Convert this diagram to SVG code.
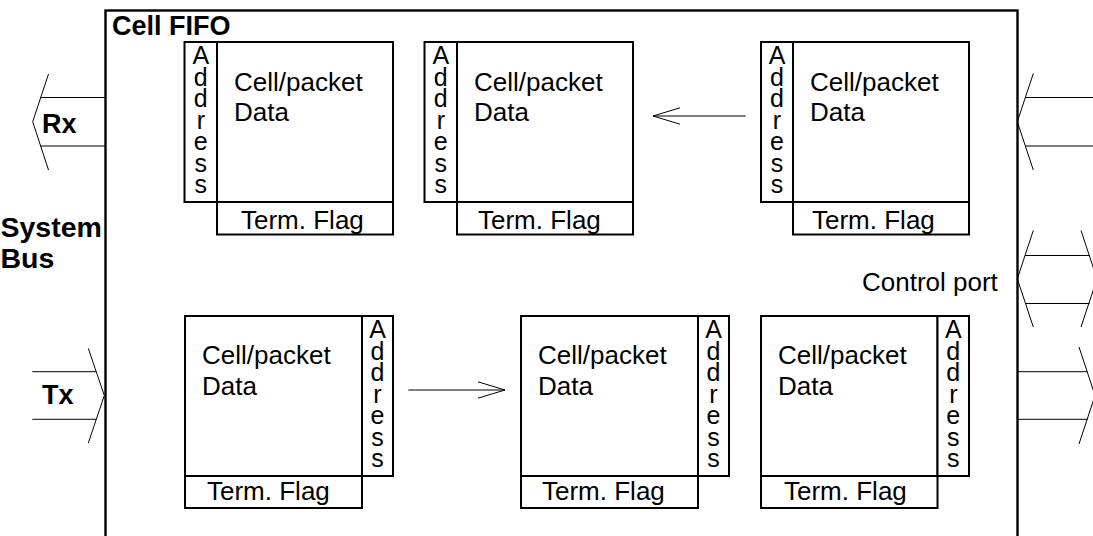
<svg xmlns="http://www.w3.org/2000/svg" width="1093" height="536" viewBox="0 0 1093 536">
<defs>
<style>
.frame{fill:none;stroke:#000;stroke-width:2.4}
.box{fill:#fff;stroke:#000;stroke-width:2}
.ln{fill:none;stroke:#000;stroke-width:1}
.t{font-family:"Liberation Sans",Arial,sans-serif;font-size:26px;fill:#000}
.b{font-family:"Liberation Sans",Arial,sans-serif;font-size:27px;font-weight:bold;fill:#000}
.addr{font-family:"Liberation Sans",Arial,sans-serif;font-size:25px;fill:#000;text-anchor:middle}
</style>
<marker id="open" markerUnits="userSpaceOnUse" markerWidth="32" markerHeight="20" viewBox="-30 -10 32 20" refX="0" refY="0" orient="auto" overflow="visible">
<path d="M -27 -8.2 L 0 0 L -27 8.2" fill="none" stroke="#000" stroke-width="1"/>
</marker>
</defs>
<rect width="1093" height="536" fill="#fff"/>

<g id="cell-fifo">
<rect class="frame" x="105.5" y="10.5" width="912" height="600"/>
<text class="b" x="112" y="35">Cell FIFO</text>
</g>

<g id="system-bus-label">
<text class="b" x="0.5" y="237" style="font-size:28.5px">System</text>
<text class="b" x="0.5" y="268" style="font-size:28.5px">Bus</text>
</g>
<g id="rx-label"><text class="b" x="42" y="133">Rx</text></g>
<g id="tx-label"><text class="b" x="42" y="404">Tx</text></g>
<g id="control-port-label"><text class="t" x="862" y="291">Control port</text></g>

<g id="connectors">
<path class="ln" d="M 105 97.5 H 40.6 M 105 146 H 40.6"/>
<path class="ln" d="M 48.5 74 L 32.7 121.7 L 48.5 170"/>
<path class="ln" d="M 32.3 371.7 H 96 M 32.3 419.3 H 96"/>
<path class="ln" d="M 88.3 348.3 L 104.3 395.5 L 88.3 443"/>
<path class="ln" d="M 1093 97.5 H 1025 M 1093 146 H 1025"/>
<path class="ln" d="M 1033.3 73.5 L 1017.3 121.7 L 1033.3 170"/>
<path class="ln" d="M 1025 255.5 H 1089.5 M 1025 303.5 H 1089.5"/>
<path class="ln" d="M 1033.3 230.5 L 1017.3 278.8 L 1033.3 327"/>
<path class="ln" d="M 1081 230.5 L 1097 278.8 L 1081 327"/>
<path class="ln" d="M 1017 371.7 H 1087.5 M 1017 419.3 H 1087.5"/>
<path class="ln" d="M 1079 347 L 1095 395.5 L 1079 444"/>
<line class="ln" x1="745.7" y1="116" x2="653" y2="116" marker-end="url(#open)"/>
<line class="ln" x1="408.3" y1="390" x2="505" y2="390" marker-end="url(#open)"/>
</g>

<g id="rx-cell-1">
<rect class="box" x="184.5" y="42" width="32.5" height="160"/>
<rect class="box" x="217" y="42" width="176" height="160"/>
<rect class="box" x="217" y="202" width="176" height="32.5"/>
<text class="t" x="234" y="91">Cell/packet</text>
<text class="t" x="234" y="121">Data</text>
<text class="t" x="241" y="229">Term. Flag</text>
<text class="addr" x="200.8"><tspan x="200.8" y="64">A</tspan><tspan x="200.8" y="85.5">d</tspan><tspan x="200.8" y="107">d</tspan><tspan x="200.8" y="128.6">r</tspan><tspan x="200.8" y="150.2">e</tspan><tspan x="200.8" y="171.7">s</tspan><tspan x="200.8" y="193.3">s</tspan></text>
</g>

<g id="rx-cell-2">
<rect class="box" x="424.5" y="42" width="32.5" height="160"/>
<rect class="box" x="457" y="42" width="176" height="160"/>
<rect class="box" x="457" y="202" width="176" height="32.5"/>
<text class="t" x="474" y="91">Cell/packet</text>
<text class="t" x="474" y="121">Data</text>
<text class="t" x="478" y="229">Term. Flag</text>
<text class="addr" x="440.8"><tspan x="440.8" y="64">A</tspan><tspan x="440.8" y="85.5">d</tspan><tspan x="440.8" y="107">d</tspan><tspan x="440.8" y="128.6">r</tspan><tspan x="440.8" y="150.2">e</tspan><tspan x="440.8" y="171.7">s</tspan><tspan x="440.8" y="193.3">s</tspan></text>
</g>

<g id="rx-cell-3">
<rect class="box" x="761" y="42" width="32" height="160"/>
<rect class="box" x="793" y="42" width="176" height="160"/>
<rect class="box" x="793" y="202" width="176" height="32.5"/>
<text class="t" x="810" y="91">Cell/packet</text>
<text class="t" x="810" y="121">Data</text>
<text class="t" x="812" y="229">Term. Flag</text>
<text class="addr" x="777"><tspan x="777" y="64">A</tspan><tspan x="777" y="85.5">d</tspan><tspan x="777" y="107">d</tspan><tspan x="777" y="128.6">r</tspan><tspan x="777" y="150.2">e</tspan><tspan x="777" y="171.7">s</tspan><tspan x="777" y="193.3">s</tspan></text>
</g>

<g id="tx-cell-1">
<rect class="box" x="185" y="316" width="177" height="160"/>
<rect class="box" x="362" y="316" width="31" height="160"/>
<rect class="box" x="185" y="476" width="177" height="32"/>
<text class="t" x="202" y="364">Cell/packet</text>
<text class="t" x="202" y="395">Data</text>
<text class="t" x="207" y="500">Term. Flag</text>
<text class="addr" x="377.5"><tspan x="377.5" y="338">A</tspan><tspan x="377.5" y="359.5">d</tspan><tspan x="377.5" y="381">d</tspan><tspan x="377.5" y="402.6">r</tspan><tspan x="377.5" y="424.2">e</tspan><tspan x="377.5" y="445.7">s</tspan><tspan x="377.5" y="467.3">s</tspan></text>
</g>

<g id="tx-cell-2">
<rect class="box" x="521" y="316" width="177" height="160"/>
<rect class="box" x="698" y="316" width="31" height="160"/>
<rect class="box" x="521" y="476" width="177" height="32"/>
<text class="t" x="538" y="364">Cell/packet</text>
<text class="t" x="538" y="395">Data</text>
<text class="t" x="542" y="500">Term. Flag</text>
<text class="addr" x="713.5"><tspan x="713.5" y="338">A</tspan><tspan x="713.5" y="359.5">d</tspan><tspan x="713.5" y="381">d</tspan><tspan x="713.5" y="402.6">r</tspan><tspan x="713.5" y="424.2">e</tspan><tspan x="713.5" y="445.7">s</tspan><tspan x="713.5" y="467.3">s</tspan></text>
</g>

<g id="tx-cell-3">
<rect class="box" x="761" y="316" width="176.5" height="160"/>
<rect class="box" x="937.5" y="316" width="31.5" height="160"/>
<rect class="box" x="761" y="476" width="176.5" height="32"/>
<text class="t" x="778" y="364">Cell/packet</text>
<text class="t" x="778" y="395">Data</text>
<text class="t" x="784" y="500">Term. Flag</text>
<text class="addr" x="953.3"><tspan x="953.3" y="338">A</tspan><tspan x="953.3" y="359.5">d</tspan><tspan x="953.3" y="381">d</tspan><tspan x="953.3" y="402.6">r</tspan><tspan x="953.3" y="424.2">e</tspan><tspan x="953.3" y="445.7">s</tspan><tspan x="953.3" y="467.3">s</tspan></text>
</g>
</svg>
